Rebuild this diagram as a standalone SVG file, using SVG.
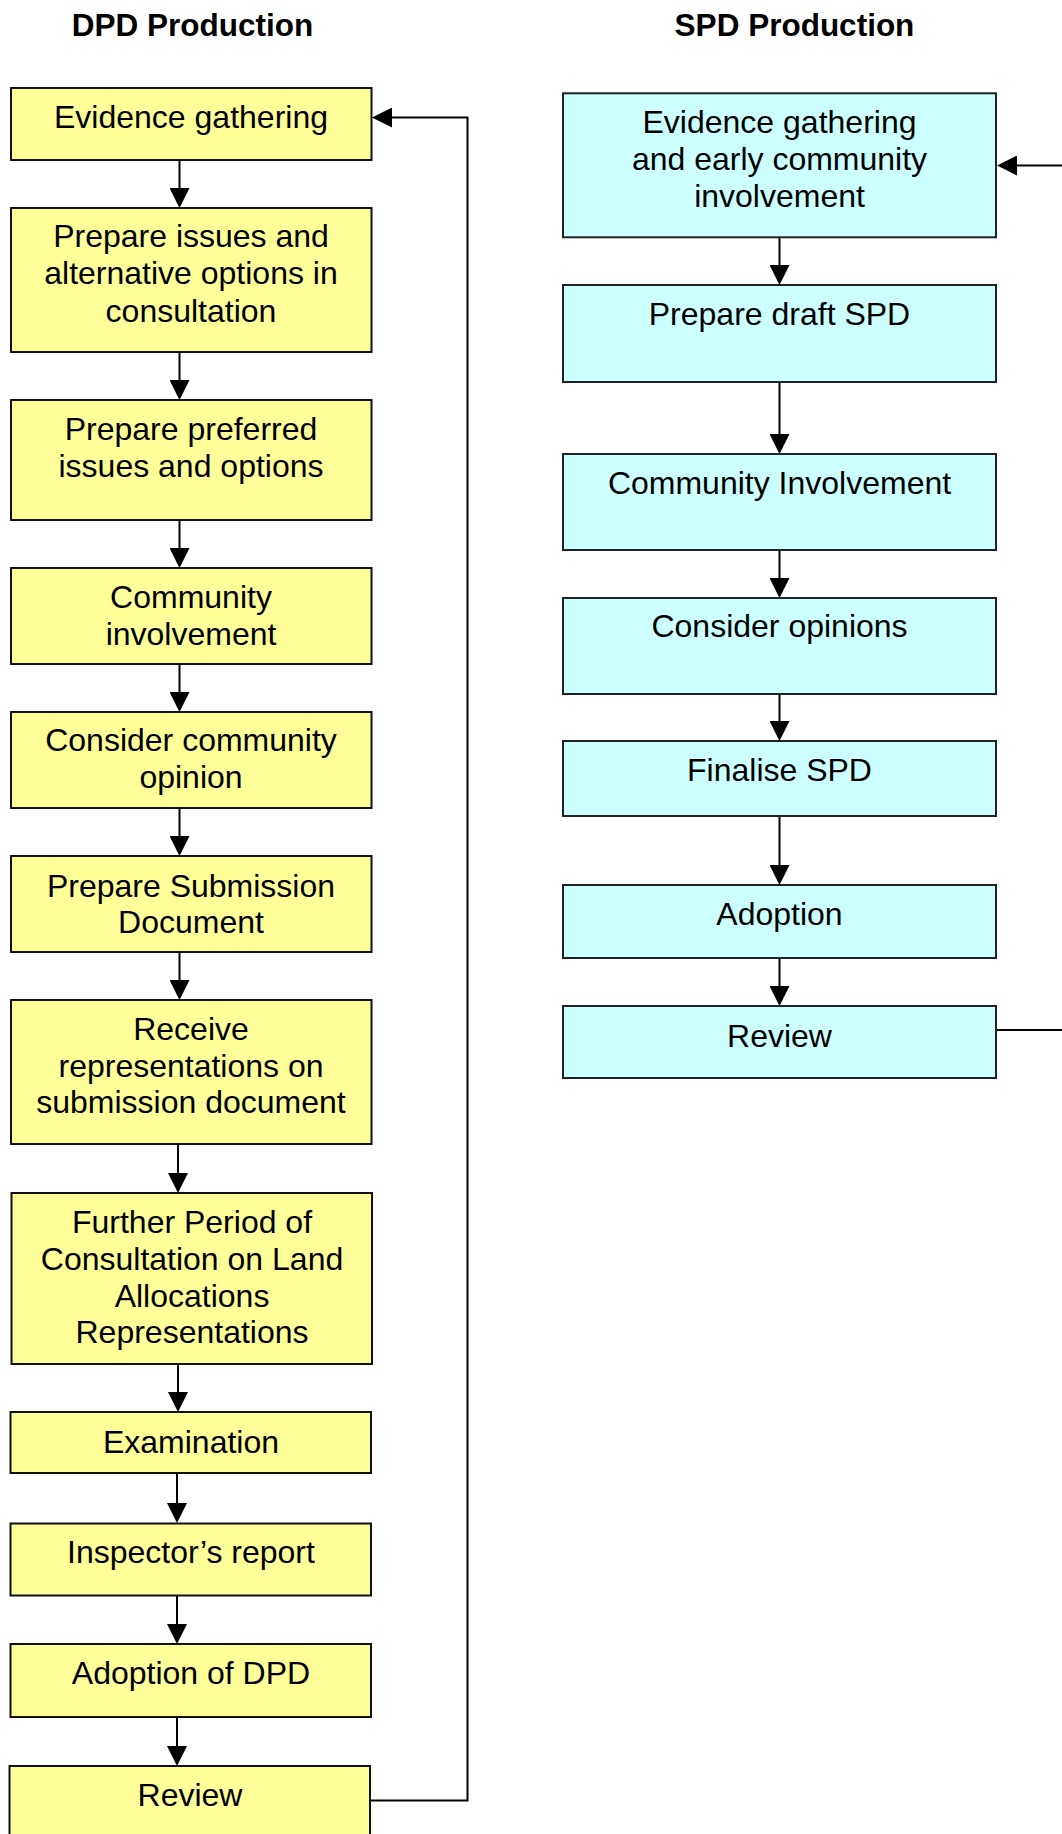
<svg xmlns="http://www.w3.org/2000/svg" width="1062" height="1834" viewBox="0 0 1062 1834">
<style>
.t{font-family:"Liberation Sans",Arial,sans-serif;font-size:32px;fill:#000;text-anchor:middle}
.h{font-family:"Liberation Sans",Arial,sans-serif;font-size:31.5px;font-weight:bold;fill:#000;text-anchor:middle}
.y{fill:#FFFF99;stroke:#111;stroke-width:2}
.c{fill:#CCFFFF;stroke:#222;stroke-width:2}
.l{fill:none;stroke:#000;stroke-width:2}
</style>
<defs>
<marker id="ah" viewBox="0 0 20 20" refX="10" refY="10" markerWidth="20" markerHeight="20" markerUnits="userSpaceOnUse" orient="auto">
<path d="M0,0 L20,10 L0,20 z" fill="#000"/>
</marker>
</defs>
<rect width="1062" height="1834" fill="#fff"/>
<text class="h" x="192.5" y="36">DPD Production</text>
<text class="h" x="794.5" y="36">SPD Production</text>

<g id="connectors">
<line class="l" x1="179.5" y1="160" x2="179.5" y2="198" marker-end="url(#ah)"/>
<line class="l" x1="179.5" y1="352" x2="179.5" y2="390" marker-end="url(#ah)"/>
<line class="l" x1="179.5" y1="520" x2="179.5" y2="558" marker-end="url(#ah)"/>
<line class="l" x1="179.5" y1="664" x2="179.5" y2="702" marker-end="url(#ah)"/>
<line class="l" x1="179.5" y1="808" x2="179.5" y2="846" marker-end="url(#ah)"/>
<line class="l" x1="179.5" y1="952" x2="179.5" y2="990" marker-end="url(#ah)"/>
<line class="l" x1="178" y1="1144" x2="178" y2="1183" marker-end="url(#ah)"/>
<line class="l" x1="178" y1="1364" x2="178" y2="1402" marker-end="url(#ah)"/>
<line class="l" x1="177" y1="1473" x2="177" y2="1513" marker-end="url(#ah)"/>
<line class="l" x1="177" y1="1596" x2="177" y2="1634" marker-end="url(#ah)"/>
<line class="l" x1="177" y1="1717" x2="177" y2="1756" marker-end="url(#ah)"/>
<polyline class="l" points="370,1800.5 467.5,1800.5 467.5,117.5 382,117.5" marker-end="url(#ah)"/>

<line class="l" x1="779.5" y1="237" x2="779.5" y2="275" marker-end="url(#ah)"/>
<line class="l" x1="779.5" y1="382" x2="779.5" y2="444" marker-end="url(#ah)"/>
<line class="l" x1="779.5" y1="550" x2="779.5" y2="588" marker-end="url(#ah)"/>
<line class="l" x1="779.5" y1="694" x2="779.5" y2="731" marker-end="url(#ah)"/>
<line class="l" x1="779.5" y1="813" x2="779.5" y2="875" marker-end="url(#ah)"/>
<line class="l" x1="779.5" y1="958" x2="779.5" y2="996" marker-end="url(#ah)"/>
<line class="l" x1="996" y1="1030" x2="1062" y2="1030"/>
<line class="l" x1="1062" y1="165.5" x2="1007" y2="165.5" marker-end="url(#ah)"/>
</g>

<g id="dpd1"><rect class="y" x="11" y="88" width="360.5" height="72"/><text class="t" x="191" y="128.3">Evidence gathering</text></g>
<g id="dpd2"><rect class="y" x="11" y="208" width="360.5" height="144"/><text class="t" x="191" y="246.7">Prepare issues and</text><text class="t" x="191" y="284">alternative options in</text><text class="t" x="191" y="321.7">consultation</text></g>
<g id="dpd3"><rect class="y" x="11" y="400" width="360.5" height="120"/><text class="t" x="191" y="440">Prepare preferred</text><text class="t" x="191" y="476.7">issues and options</text></g>
<g id="dpd4"><rect class="y" x="11" y="568" width="360.5" height="96"/><text class="t" x="191" y="608.3">Community</text><text class="t" x="191" y="645">involvement</text></g>
<g id="dpd5"><rect class="y" x="11" y="712" width="360.5" height="96"/><text class="t" x="191" y="751">Consider community</text><text class="t" x="191" y="788.3">opinion</text></g>
<g id="dpd6"><rect class="y" x="11" y="856" width="360.5" height="96"/><text class="t" x="191" y="896.7">Prepare Submission</text><text class="t" x="191" y="932.7">Document</text></g>
<g id="dpd7"><rect class="y" x="11" y="1000" width="360.5" height="144"/><text class="t" x="191" y="1040">Receive</text><text class="t" x="191" y="1076.7">representations on</text><text class="t" x="191" y="1113.3">submission document</text></g>
<g id="dpd8"><rect class="y" x="11.5" y="1193" width="360.5" height="171"/><text class="t" x="192" y="1233.3">Further Period of</text><text class="t" x="192" y="1270">Consultation on Land</text><text class="t" x="192" y="1306.7">Allocations</text><text class="t" x="192" y="1343.3">Representations</text></g>
<g id="dpd9"><rect class="y" x="10.5" y="1412" width="360.5" height="61"/><text class="t" x="191" y="1452.7">Examination</text></g>
<g id="dpd10"><rect class="y" x="10.5" y="1523.5" width="360.5" height="72"/><text class="t" x="191" y="1563.3">Inspector’s report</text></g>
<g id="dpd11"><rect class="y" x="10.5" y="1644" width="360.5" height="73"/><text class="t" x="191" y="1684.3">Adoption of DPD</text></g>
<g id="dpd12"><rect class="y" x="9.5" y="1766" width="360.5" height="80"/><text class="t" x="190" y="1806">Review</text></g>

<g id="spd1"><rect class="c" x="563" y="93.3" width="433" height="144"/><text class="t" x="779.5" y="133.3">Evidence gathering</text><text class="t" x="779.5" y="170">and early community</text><text class="t" x="779.5" y="206.7">involvement</text></g>
<g id="spd2"><rect class="c" x="563" y="285" width="433" height="97"/><text class="t" x="779.5" y="325">Prepare draft SPD</text></g>
<g id="spd3"><rect class="c" x="563" y="454" width="433" height="96"/><text class="t" x="779.5" y="494">Community Involvement</text></g>
<g id="spd4"><rect class="c" x="563" y="598" width="433" height="96"/><text class="t" x="779.5" y="636.7">Consider opinions</text></g>
<g id="spd5"><rect class="c" x="563" y="741" width="433" height="75"/><text class="t" x="779.5" y="780.7">Finalise SPD</text></g>
<g id="spd6"><rect class="c" x="563" y="885" width="433" height="73"/><text class="t" x="779.5" y="925">Adoption</text></g>
<g id="spd7"><rect class="c" x="563" y="1006" width="433" height="72"/><text class="t" x="779.5" y="1046.7">Review</text></g>
</svg>
